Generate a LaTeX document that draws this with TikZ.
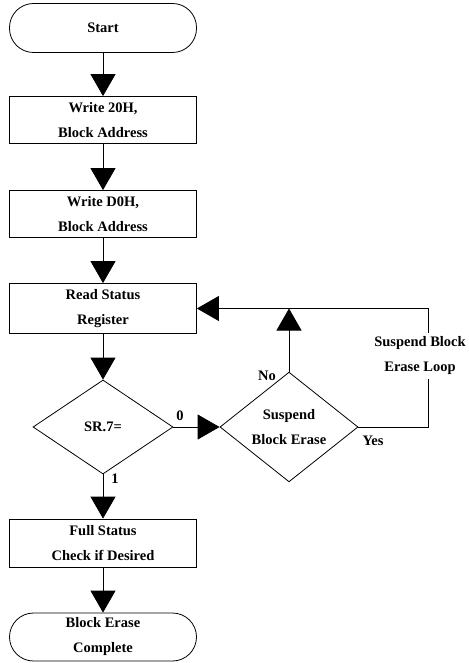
\documentclass[tikz,border=0pt]{standalone}
\usepackage{fontspec}
\setmainfont{Liberation Serif}
\usetikzlibrary{arrows.meta}
\usetikzlibrary{shapes.geometric}

\begin{document}
\begin{tikzpicture}[x=1pt,y=-1pt]

            \tikzstyle{termNode} = [draw, thick, rounded corners=24pt, minimum width=187pt, minimum height=49pt, align=center, font=\fontsize{14.5}{25}\selectfont\bfseries];
            \tikzstyle{stepBox} = [draw, thick, minimum width=187pt, minimum height=47pt, align=center, font=\fontsize{14.5}{25}\selectfont\bfseries];
            \tikzstyle{decisionNode} = [draw, thick, diamond, inner sep=0pt, minimum width=140pt, minimum height=94pt, align=center, font=\fontsize{14.5}{25}\selectfont\bfseries];
            \tikzstyle{flowEdge} = [thick, -{Triangle[width=25pt,length=22pt]}];
            \tikzstyle{plainEdge} = [thick];
            \tikzstyle{edgeLabel} = [inner sep=0pt, font=\fontsize{14.5}{25}\selectfont\bfseries];

            \useasboundingbox (0,0) rectangle (468,663);

            \node[termNode] (start) at (103,28) {Start};
            \node[stepBox] (wa) at (103,120) {Write 20H,\\Block Address};
            \node[stepBox] (wb) at (103,214) {Write D0H,\\Block Address};
            \node[stepBox, minimum height=50pt] (rs) at (103,308.5) {Read Status\\Register};
            \node[decisionNode] (sr) at (103,427) {SR.7=};
            \node[decisionNode, minimum width=138pt] (sbe) at (289,427) {Suspend\\Block Erase};
            \node[stepBox, minimum height=48pt] (fs) at (103,543) {Full Status\\Check if Desired};
            \node[termNode, minimum height=48pt] (done) at (103,637) {Block Erase\\Complete};

            \coordinate (loopBot) at (428,427);
            \coordinate (loopTop) at (428,308.5);
            \coordinate (join)    at (289,308.5);

            \draw[flowEdge] (start) -- (wa);
            \draw[flowEdge] (wa) -- (wb);
            \draw[flowEdge] (wb) -- (rs);
            \draw[flowEdge] (rs) -- (sr);
            \draw[flowEdge] (sr) -- (fs);
            \draw[flowEdge] (fs) -- (done);

            \draw[flowEdge] (sr.east) -- (sbe.west);
            \draw[flowEdge] (sbe.north) -- (join);
            \draw[flowEdge] (sbe.east) -- (loopBot) -- (loopTop) -- (rs.east);

            \node[edgeLabel, fill=white, inner sep=4pt, align=center] (loopText) at (420,356) {Suspend Block\\Erase Loop};

            \node[edgeLabel] (lblZero) at (180,416) {0};
            \node[edgeLabel] (lblOne) at (115,479) {1};
            \node[edgeLabel] (lblNo) at (267,376) {No};
            \node[edgeLabel] (lblYes) at (373,441) {Yes};
          \end{tikzpicture}
\end{document}
